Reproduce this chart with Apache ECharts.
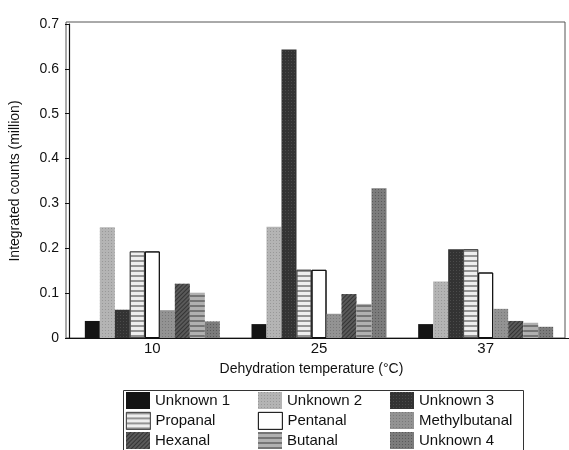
<!DOCTYPE html>
<html>
<head>
<meta charset="utf-8">
<script src="https://cdn.jsdelivr.net/npm/echarts@6/dist/echarts.min.js"></script>
<style>
  html, body { margin: 0; padding: 0; background: #fff; }
  #chart { width: 569px; height: 450px; }
</style>
</head>
<body>
<div id="chart"></div>
<script>
// Dehydration temperature groups (°C)
const temperatures = ['10', '25', '37'];

// Integrated counts (million) per compound, one value per temperature
const unknown1      = [0.038, 0.031, 0.031];
const unknown2      = [0.247, 0.248, 0.126];
const unknown3      = [0.063, 0.643, 0.198];
const propanal      = [0.193, 0.152, 0.198];
const pentanal      = [0.193, 0.152, 0.146];
const methylbutanal = [0.062, 0.054, 0.065];
const hexanal       = [0.121, 0.098, 0.038];
const butanal       = [0.101, 0.076, 0.034];
const unknown4      = [0.037, 0.334, 0.025];

// Y axis range
const yMin = 0, yMax = 0.7, yStep = 0.1;

const FONT = 'Liberation Sans, Arial, sans-serif';

// Fill patterns approximating a monochrome print
const plain = () => ({ symbol: 'rect', symbolSize: 1, color: 'rgba(0,0,0,0)', dashArrayX: [1, 0], dashArrayY: [1, 0], rotation: 0 });
const dots = (c) => ({ symbol: 'rect', symbolSize: 1, color: c, dashArrayX: [1, 2], dashArrayY: [1, 2], rotation: 0 });
const hlines = (c) => ({ symbol: 'rect', symbolSize: 1, color: c, dashArrayX: [1, 0], dashArrayY: [1.5, 2.5], rotation: 0 });
const hatch = (c) => ({ symbol: 'rect', symbolSize: 1, color: c, dashArrayX: [1, 0], dashArrayY: [1, 2], rotation: -Math.PI / 4 });

const seriesDefs = [
  { name: 'Unknown 1',     data: unknown1,      style: { color: '#141414', decal: plain() } },
  { name: 'Unknown 2',     data: unknown2,      style: { color: '#b4b4b4', decal: dots('rgba(90,90,90,0.3)') } },
  { name: 'Unknown 3',     data: unknown3,      style: { color: '#333333', decal: dots('rgba(100,100,100,0.5)') } },
  { name: 'Propanal',      data: propanal,      style: { color: '#eeeeee', borderColor: '#444', borderWidth: 0.8, decal: hlines('rgba(100,100,100,0.65)') } },
  { name: 'Pentanal',      data: pentanal,      style: { color: '#ffffff', borderColor: '#111', borderWidth: 1, decal: plain() } },
  { name: 'Methylbutanal', data: methylbutanal, style: { color: '#939393', decal: dots('rgba(60,60,60,0.3)') } },
  { name: 'Hexanal',       data: hexanal,       style: { color: '#5a5a5a', decal: hatch('rgba(20,20,20,0.55)') } },
  { name: 'Butanal',       data: butanal,       style: { color: '#b0b0b0', decal: hlines('rgba(70,70,70,0.55)') } },
  { name: 'Unknown 4',     data: unknown4,      style: { color: '#7c7c7c', decal: dots('rgba(40,40,40,0.4)') } }
];

// Legend reads row by row in three columns
const legendColumns = [126, 258, 390];
const legendRows = [392, 412, 432];
const legendText = { fontFamily: FONT, fontSize: 15, color: '#111', lineHeight: 17 };
const legends = seriesDefs.map((s, i) => ({
  data: [s.name],
  left: legendColumns[i % 3],
  top: legendRows[Math.floor(i / 3)],
  orient: 'horizontal', padding: 0, itemWidth: 24, itemHeight: 17,
  icon: 'rect', selectedMode: false, textStyle: legendText,
  itemStyle: { borderWidth: 0.8 }
}));

const chart = echarts.init(document.getElementById('chart'), null, { renderer: 'canvas' });

chart.setOption({
  backgroundColor: '#ffffff',
  animation: false,
  aria: { enabled: true, decal: { show: true } },
  grid: [
    { left: 66, top: 24, width: 507, bottom: 112 },
    // plot frame
    { left: 66, top: 22, width: 499, bottom: 112, show: true, borderColor: '#555', borderWidth: 1, backgroundColor: 'transparent' }
  ],
  xAxis: [
    {
      type: 'category', gridIndex: 0, data: temperatures,
      axisLine: { lineStyle: { color: '#111', width: 1.2 } },
      axisTick: { length: 4, lineStyle: { color: '#111' } },
      axisLabel: { fontFamily: FONT, fontSize: 15, color: '#111', margin: 3 },
      name: 'Dehydration temperature (°C)', nameLocation: 'middle', nameGap: 24,
      nameTextStyle: { fontFamily: FONT, fontSize: 14, color: '#111', padding: [0, 15, 0, 0] }
    },
    { type: 'category', gridIndex: 1, show: false, data: temperatures }
  ],
  yAxis: [
    {
      type: 'value', gridIndex: 0, min: yMin, max: yMax, interval: yStep,
      axisLine: { show: true, lineStyle: { color: '#111', width: 1.2 } },
      axisTick: { show: true, length: 4, lineStyle: { color: '#111' } },
      splitLine: { show: false },
      axisLabel: {
        fontFamily: FONT, fontSize: 14, color: '#111', margin: 10,
        formatter: (v) => (v === 0 ? '0' : v.toFixed(1))
      },
      name: 'Integrated counts (million)', nameLocation: 'middle', nameGap: 47,
      nameTextStyle: { fontFamily: FONT, fontSize: 14, color: '#111' }
    },
    { type: 'value', gridIndex: 1, show: false, min: yMin, max: yMax }
  ],
  legend: legends,
  graphic: [
    // legend box
    { type: 'rect', left: 121, top: 388, shape: { width: 400, height: 80 },
      style: { fill: 'none', stroke: '#333', lineWidth: 1 }, silent: true, z: -1 }
  ],
  series: seriesDefs.map((s) => ({
    name: s.name, type: 'bar', xAxisIndex: 0, yAxisIndex: 0,
    data: s.data, barGap: '0%', barCategoryGap: '19%',
    itemStyle: s.style
  }))
});
</script>
</body>
</html>
